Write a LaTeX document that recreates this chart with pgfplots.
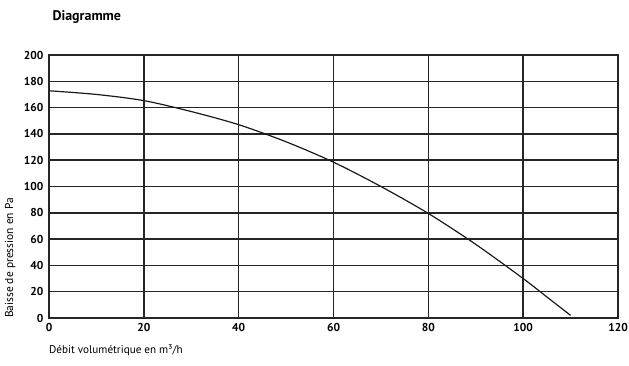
\documentclass[border=0pt]{standalone}
\usepackage{fontspec}
\setmainfont{PT Sans}
\usepackage{pgfplots}
\pgfplotsset{compat=1.18}
\begin{document}
\begin{tikzpicture}[x=1bp,y=1bp]
\path[use as bounding box] (-49bp,-48bp) rectangle (580bp,318bp);
\begin{axis}[
  at={(0,0)}, anchor=origin,
  scale only axis, width=569bp, height=263bp,
  xmin=0, xmax=120, ymin=0, ymax=200,
  xtick={0,20,...,120}, ytick={0,20,...,200},
  grid=major,
  major grid style={line width=1.5pt, color=black!85},
  axis line style={line width=1.5pt, color=black!85},
  tick style={draw=none},
  /pgf/number format/assume math mode=true,
  ticklabel style={font=\bfseries\fontsize{11.5}{13}\selectfont},
  xticklabel style={yshift=-2bp},
  yticklabel style={xshift=-2bp},
  clip=false,
]
\addplot[smooth, line width=1.2pt, color=black!90] coordinates {
(0,172.8) (10,170) (20,165.3) (30,157) (40,147) (50,134) (60,118.5) (70,100) (80,79.5) (90,56) (100,30) (105,16) (110,2)
};
\end{axis}
\node[anchor=base west, font=\bfseries\fontsize{14}{16}\selectfont] at (0bp,345bp-48bp) {Diagramme};
\node[anchor=base west, inner sep=0pt, font=\fontsize{11.2}{13}\selectfont] at (0bp,-35bp) {Débit volumétrique en m³/h};
\node[rotate=90, anchor=base, font=\fontsize{11.5}{13}\selectfont] at (-36bp,60bp) {Baisse de pression en Pa};
\end{tikzpicture}
\end{document}
